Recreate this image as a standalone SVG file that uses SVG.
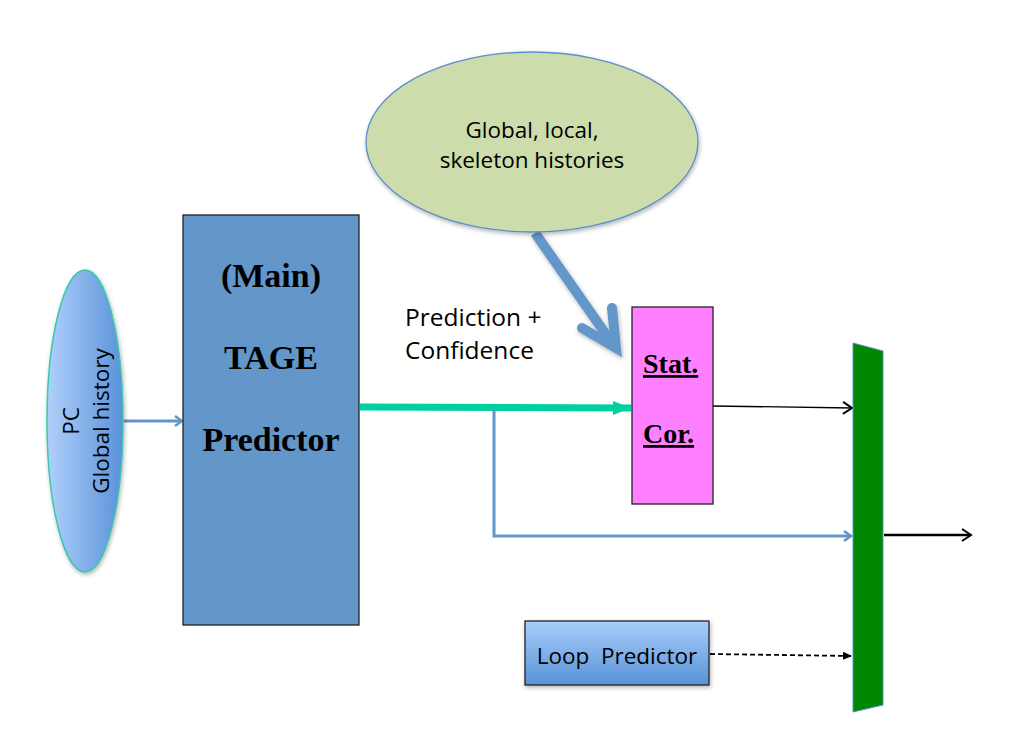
<svg xmlns="http://www.w3.org/2000/svg" width="1016" height="748" viewBox="0 0 1016 748">
<style>
.sans{font-family:"Open Sans","Liberation Sans",sans-serif;fill:#000}
.serif{font-family:"Liberation Serif","Times New Roman",serif;font-weight:bold;fill:#000}
.blue{stroke:#6396c9;fill:none}
</style>
<defs>
<linearGradient id="gEll" x1="0" y1="0" x2="1" y2="0">
<stop offset="0" stop-color="#b0d0fb"/>
<stop offset="1" stop-color="#5a92d8"/>
</linearGradient>
<linearGradient id="gLoop" x1="0" y1="0" x2="0" y2="1">
<stop offset="0" stop-color="#a9cdfb"/>
<stop offset="1" stop-color="#5892d8"/>
</linearGradient>
<filter id="sh" x="-20%" y="-20%" width="140%" height="140%">
<feDropShadow dx="1" dy="2" stdDeviation="2" flood-color="#000" flood-opacity="0.3"/>
</filter>
<marker id="mBlue" markerWidth="12" markerHeight="12" refX="9" refY="6" orient="auto" markerUnits="userSpaceOnUse">
<path d="M2,1 L9,6 L2,11" fill="none" stroke="#6396c9" stroke-width="2.5"/>
</marker>
<marker id="mBlack" markerWidth="16" markerHeight="16" refX="12" refY="8" orient="auto" markerUnits="userSpaceOnUse">
<path d="M3,2 L12,8 L3,14" fill="none" stroke="#000" stroke-width="2"/>
</marker>
<marker id="mTeal" markerWidth="20" markerHeight="16" refX="18" refY="8" orient="auto" markerUnits="userSpaceOnUse">
<path d="M0,1 L18,8 L0,15 Z" fill="#00cfa0"/>
</marker>
<marker id="mDash" markerWidth="10" markerHeight="10" refX="9" refY="5" orient="auto" markerUnits="userSpaceOnUse">
<path d="M0,1 L9,5 L0,9 Z" fill="#000"/>
</marker>
</defs>

<g id="connectors">
<line x1="124" y1="421" x2="182" y2="421" class="blue" stroke-width="3" marker-end="url(#mBlue)"/>
<line x1="360" y1="407" x2="631" y2="408" stroke="#00cfa0" stroke-width="7" marker-end="url(#mTeal)"/>
<polyline points="494,410 494,536 851,536" class="blue" stroke-width="3" marker-end="url(#mBlue)"/>
<line x1="713" y1="406" x2="852" y2="408" stroke="#000" stroke-width="1.3" marker-end="url(#mBlack)"/>
<line x1="884" y1="535" x2="971" y2="535" stroke="#000" stroke-width="2.5" marker-end="url(#mBlack)"/>
<line x1="710" y1="654" x2="852" y2="656" stroke="#000" stroke-width="1.8" stroke-dasharray="5,3" marker-end="url(#mDash)"/>
<g filter="url(#sh)">
<line x1="535" y1="233" x2="612" y2="343" stroke="#6396c9" stroke-width="10" stroke-linecap="butt"/>
<polyline points="582,328 616,348 612,308" fill="none" stroke="#6396c9" stroke-width="10" stroke-linejoin="miter" stroke-linecap="round"/>
</g>
</g>

<g id="input">
<ellipse cx="85" cy="421" rx="38" ry="151" fill="url(#gEll)" stroke="#3cc6b0" stroke-width="1.5" filter="url(#sh)"/>
<text class="sans" font-size="22.5" text-anchor="middle" transform="translate(79,421) rotate(-90)">PC</text>
<text class="sans" font-size="22.5" text-anchor="middle" transform="translate(109,421) rotate(-90)">Global history</text>
</g>

<g id="tage">
<rect x="183" y="215" width="176" height="410" fill="#6396c9" stroke="#222" stroke-width="1.3"/>
<text class="serif" font-size="34" x="271" y="287" text-anchor="middle">(Main)</text>
<text class="serif" font-size="34" x="271" y="369" text-anchor="middle">TAGE</text>
<text class="serif" font-size="34" x="271" y="451" text-anchor="middle">Predictor</text>
</g>

<g id="histories">
<ellipse cx="532" cy="142" rx="166" ry="90" fill="#cddcab" stroke="#5b8fc9" stroke-width="1.3" filter="url(#sh)"/>
<text class="sans" font-size="22.5" x="532" y="138" text-anchor="middle">Global, local,</text>
<text class="sans" font-size="22.5" x="532" y="168" text-anchor="middle">skeleton histories</text>
</g>

<g id="label-pred">
<text class="sans" font-size="24.5" x="405" y="326">Prediction +</text>
<text class="sans" font-size="24.5" x="405" y="359">Confidence</text>
</g>

<g id="statcor">
<rect x="632" y="307" width="81" height="197" fill="#ff80ff" stroke="#222" stroke-width="1.3"/>
<text class="serif" font-size="28" x="643" y="373" text-decoration="underline">Stat.</text>
<text class="serif" font-size="28" x="643" y="443" text-decoration="underline">Cor.</text>
</g>

<g id="mux">
<polygon points="853,343 883,351 883,705 853,712" fill="#008800" stroke="#5b8fc9" stroke-width="1"/>
</g>

<g id="loop">
<rect x="525" y="621" width="184" height="64" fill="url(#gLoop)" stroke="#222" stroke-width="1.3" filter="url(#sh)"/>
<text class="sans" font-size="22.5" x="617" y="664" text-anchor="middle" xml:space="preserve">Loop  Predictor</text>
</g>
</svg>
